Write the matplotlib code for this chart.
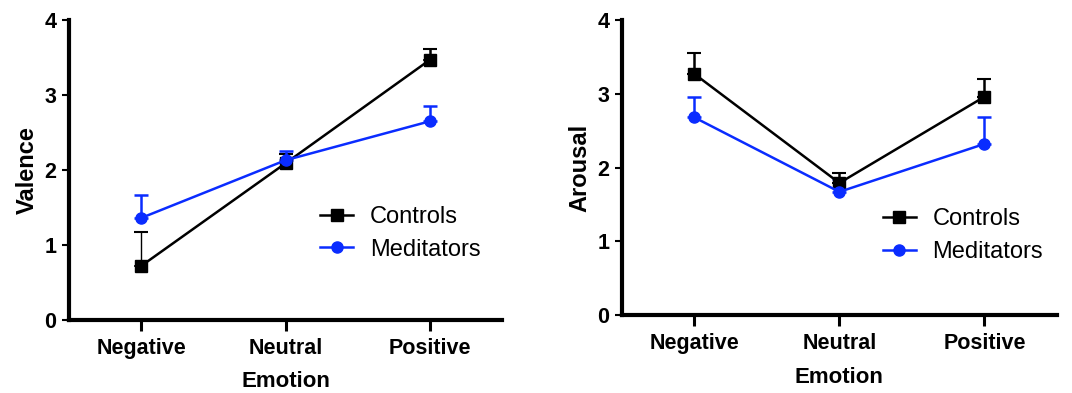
import numpy as np
import matplotlib.pyplot as plt
from matplotlib.lines import Line2D

emotions = ['Negative', 'Neutral', 'Positive']

valence_controls = [0.72, 2.09, 3.47]
valence_controls_err = [0.45, 0.12, 0.15]
valence_meditators = [1.36, 2.13, 2.65]
valence_meditators_err = [0.30, 0.12, 0.21]

arousal_controls = [3.27, 1.79, 2.96]
arousal_controls_err = [0.28, 0.14, 0.24]
arousal_meditators = [2.68, 1.67, 2.32]
arousal_meditators_err = [0.27, 0.17, 0.37]

plt.rcParams['font.family'] = ['Liberation Sans', 'DejaVu Sans']

BLUE = '#0a2cff'


def draw_panel(ax, controls, controls_err, meditators, meditators_err, ylabel,
               legend_pos, thin=None):
    x = np.arange(len(emotions))
    eb = ax.errorbar(x, controls, yerr=[np.zeros(len(x)), controls_err], color='black',
                     marker='s', markersize=8, linewidth=1.8, elinewidth=1.8,
                     capsize=5, capthick=1.5, zorder=3)
    if thin is not None:
        # first controls error bar is drawn with a thin line in the original
        lw = [1.0 if i == thin else 1.8 for i in range(len(x))]
        eb[2][0].set_linewidths(lw)
        eb[1][0].set_markeredgewidth(1.2)
    ax.errorbar(x, meditators, yerr=[np.zeros(len(x)), meditators_err], color=BLUE,
                marker='o', markersize=8, linewidth=1.8, elinewidth=1.8,
                capsize=5, capthick=1.8, zorder=3)

    ax.set_xlim(-0.5, 2.5)
    ax.set_ylim(0, 4)
    ax.set_yticks([0, 1, 2, 3, 4])
    ax.set_xticks(x)
    ax.set_xticklabels(emotions, fontsize=15.5, fontweight='bold')
    for lab in ax.get_yticklabels():
        lab.set_fontsize(15.5)
        lab.set_fontweight('bold')
    ax.set_xlabel('Emotion', fontsize=16, fontweight='bold', labelpad=9)
    ax.set_ylabel(ylabel, fontsize=17, fontweight='bold', labelpad=4)

    for side in ['top', 'right']:
        ax.spines[side].set_visible(False)
    for side in ['left', 'bottom']:
        ax.spines[side].set_linewidth(3)
    ax.tick_params(axis='x', length=8, width=2.2, pad=5)
    ax.tick_params(axis='y', length=5, width=1.5, pad=4)

    for line in ax.lines:
        line.set_clip_on(False)

    handles = [
        Line2D([], [], color='black', marker='s', markersize=8, linewidth=1.8),
        Line2D([], [], color=BLUE, marker='o', markersize=8, linewidth=1.8),
    ]
    ax.legend(handles, ['Controls', 'Meditators'], loc='upper left',
              bbox_to_anchor=legend_pos, frameon=False,
              fontsize=17, handlelength=1.4, handletextpad=0.7,
              labelspacing=0.45, borderpad=0, borderaxespad=0)


fig = plt.figure(figsize=(10.72, 3.93), dpi=100)
ax1 = fig.add_axes([0.0644, 0.186, 0.404, 0.763])
ax2 = fig.add_axes([0.580, 0.1985, 0.406, 0.7505])

draw_panel(ax1, valence_controls, valence_controls_err,
           valence_meditators, valence_meditators_err, 'Valence',
           (0.58, 0.38), thin=0)
draw_panel(ax2, arousal_controls, arousal_controls_err,
           arousal_meditators, arousal_meditators_err, 'Arousal',
           (0.60, 0.362))

fig.savefig('out.png', dpi=100)
